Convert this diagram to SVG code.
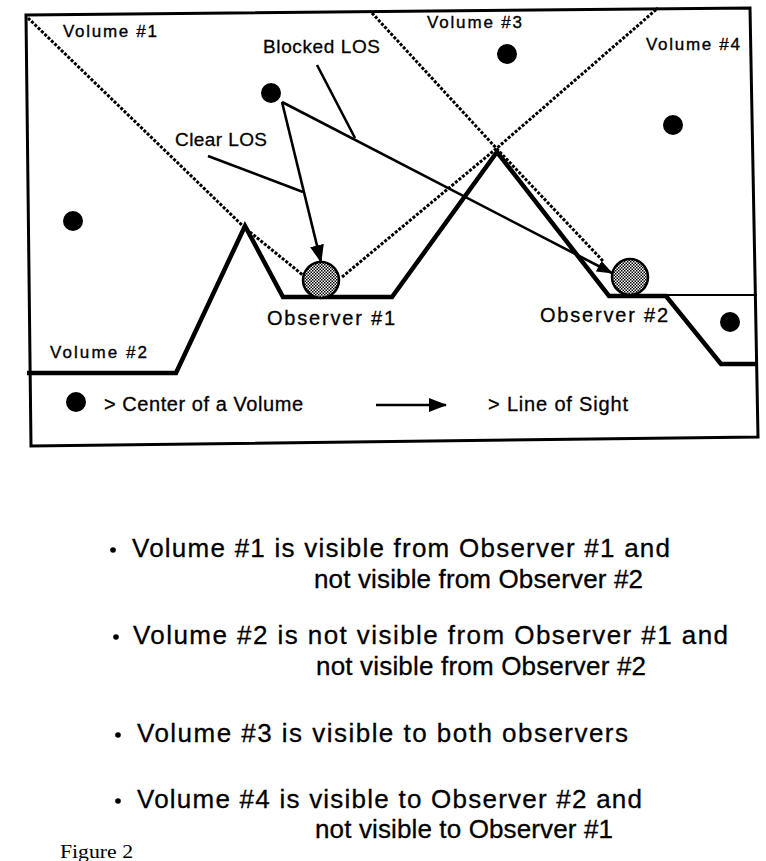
<svg xmlns="http://www.w3.org/2000/svg" width="766" height="861" viewBox="0 0 766 861">
<style>
.lbl{font-family:"Liberation Sans",Arial,sans-serif;font-size:17px;fill:#000;stroke:#000;stroke-width:0.35}
.lbl2{font-family:"Liberation Sans",Arial,sans-serif;font-size:19px;fill:#000;stroke:#000;stroke-width:0.3}
.lbl3{font-family:"Liberation Sans",Arial,sans-serif;font-size:20px;fill:#000;stroke:#000;stroke-width:0.3}
.bul{font-family:"Liberation Sans",Arial,sans-serif;font-size:26px;fill:#000;stroke:#000;stroke-width:0.3}
.fig{font-family:"Liberation Serif","Times New Roman",serif;font-size:19px;fill:#000}
.terrain{fill:none;stroke:#000;stroke-width:4.5;stroke-linejoin:miter}
.thin{fill:none;stroke:#000;stroke-width:2.2}
.dots{fill:none;stroke:#000;stroke-width:3;stroke-dasharray:3 1.6}
.los{fill:none;stroke:#000;stroke-width:2.6}
.ctr{fill:#000}
.obs{fill:url(#stip);stroke:#000;stroke-width:2.5}
</style>
<defs>
<pattern id="stip" width="3" height="3" patternUnits="userSpaceOnUse">
<rect width="3" height="3" fill="#fff"/>
<rect x="0" y="0" width="1.5" height="1.5" fill="#000"/>
<rect x="1.5" y="1.5" width="1.5" height="1.5" fill="#000"/>
</pattern>
<marker id="arr" markerWidth="18" markerHeight="14" refX="17" refY="7" orient="auto" markerUnits="userSpaceOnUse">
<path d="M0,0 L18,7 L0,14 Z" fill="#000"/>
</marker>
<marker id="arrS" markerWidth="16" markerHeight="12" refX="15" refY="6" orient="auto" markerUnits="userSpaceOnUse">
<path d="M0,0 L16,6 L0,12 Z" fill="#000"/>
</marker>
</defs>
<rect width="766" height="861" fill="#fff"/>

<g id="frame">
<polygon points="26,15 750,8 758,437 31,446" fill="none" stroke="#000" stroke-width="3"/>
</g>

<g id="terrain">
<polyline class="terrain" points="27,373 176,373 245,226 283,297 392,297 497,152 609,296 666,296 721,364 757,364"/>
<line class="thin" x1="666" y1="295" x2="757" y2="295"/>
</g>

<g id="sightlines">
<polyline class="dots" points="28,18 245,228 304,276"/>
<polyline class="dots" points="342,277 497,148 658,8"/>
<polyline class="dots" points="372,13 497,149 603,261"/>
</g>

<g id="volume-centers">
<circle class="ctr" cx="73" cy="221" r="10"/>
<circle class="ctr" cx="271" cy="93" r="10"/>
<circle class="ctr" cx="507" cy="54" r="10"/>
<circle class="ctr" cx="673" cy="125" r="10"/>
<circle class="ctr" cx="730" cy="322" r="10"/>
</g>

<g id="observer1">
<circle class="obs" cx="321" cy="280" r="18"/>
<text class="lbl3" x="267" y="325" textLength="128" lengthAdjust="spacing">Observer  #1</text>
</g>
<g id="observer2">
<circle class="obs" cx="630" cy="277" r="18"/>
<text class="lbl3" x="540" y="322" textLength="128" lengthAdjust="spacing">Observer  #2</text>
</g>

<g id="connectors">
<line class="los" x1="282" y1="102" x2="321" y2="262" marker-end="url(#arr)"/>
<line class="los" x1="282" y1="102" x2="612" y2="273" marker-end="url(#arrS)"/>
<line class="los" x1="317" y1="65" x2="355" y2="138"/>
<line class="los" x1="208" y1="156" x2="303" y2="192"/>
</g>

<g id="labels">
<text class="lbl" x="63" y="37" textLength="94" lengthAdjust="spacing">Volume  #1</text>
<text class="lbl" x="427" y="28" textLength="95" lengthAdjust="spacing">Volume  #3</text>
<text class="lbl" x="646" y="50" textLength="94" lengthAdjust="spacing">Volume  #4</text>
<text class="lbl" x="50" y="358" textLength="97" lengthAdjust="spacing">Volume  #2</text>
<text class="lbl2" x="263" y="53" textLength="117" lengthAdjust="spacing">Blocked LOS</text>
<text class="lbl2" x="175" y="146" textLength="92" lengthAdjust="spacing">Clear LOS</text>
</g>

<g id="legend">
<circle class="ctr" cx="76" cy="402" r="10"/>
<text class="lbl3" x="104" y="411" textLength="199" lengthAdjust="spacing">&gt; Center of a Volume</text>
<line class="los" x1="376" y1="405" x2="446" y2="405" marker-end="url(#arr)"/>
<text class="lbl3" x="488" y="411" textLength="140" lengthAdjust="spacing">&gt; Line of Sight</text>
</g>

<g id="notes">
<circle cx="113" cy="550" r="2.8"/>
<text class="bul" x="132" y="557" textLength="538" lengthAdjust="spacing">Volume  #1  is  visible  from  Observer  #1  and</text>
<text class="bul" x="314" y="588" textLength="329" lengthAdjust="spacing">not visible from Observer #2</text>
<circle cx="116" cy="637" r="2.8"/>
<text class="bul" x="133" y="644" textLength="595" lengthAdjust="spacing">Volume  #2  is  not  visible  from  Observer  #1  and</text>
<text class="bul" x="316" y="675" textLength="330" lengthAdjust="spacing">not visible from Observer #2</text>
<circle cx="118" cy="735" r="2.8"/>
<text class="bul" x="137" y="742" textLength="491" lengthAdjust="spacing">Volume  #3  is  visible  to  both  observers</text>
<circle cx="118" cy="801" r="2.8"/>
<text class="bul" x="137" y="808" textLength="505" lengthAdjust="spacing">Volume  #4  is  visible  to  Observer  #2  and</text>
<text class="bul" x="315" y="838" textLength="298" lengthAdjust="spacing">not visible to Observer #1</text>
<text class="fig" x="60" y="858" textLength="73" lengthAdjust="spacingAndGlyphs">Figure 2</text>
</g>
</svg>
